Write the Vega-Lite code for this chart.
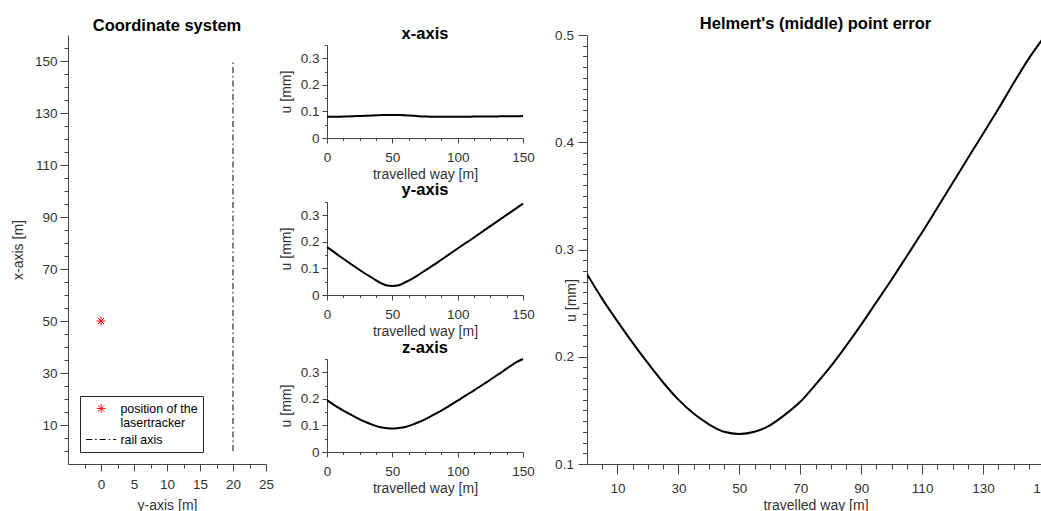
{
  "$schema": "https://vega.github.io/schema/vega-lite/v6.json",
  "padding": {"left": 11, "top": 15, "right": 0, "bottom": 0},
  "background": "white",
  "config": {
    "view": {"stroke": null},
    "font": "Liberation Sans",
    "axis": {
      "grid": false,
      "domainColor": "#444444",
      "tickColor": "#444444",
      "labelColor": "#333333",
      "titleColor": "#333333",
      "labelFont": "Liberation Sans",
      "titleFont": "Liberation Sans",
      "labelFontSize": 13.5,
      "titleFontSize": 14,
      "titleFontWeight": "normal",
      "labelFlush": false,
      "labelOverlap": false,
      "labelBound": false
    },
    "title": {"fontSize": 16.5, "fontWeight": "bold", "color": "#000000", "frame": "group", "anchor": "middle", "baseline": "alphabetic", "font": "Liberation Sans"}
  },
  "datasets": {
    "tracker": [{"y_axis_m": 0, "x_axis_m": 50, "series": "position of the lasertracker"}],
    "rail": [{"y_axis_m": 20, "x_axis_m": 0, "x_end": 150, "series": "rail axis"}],
    "err": [
      {"t": 0, "ux": 0.080, "uy": 0.180, "uz": 0.195, "u": 0.277},
      {"t": 5, "ux": 0.080, "uy": 0.163, "uz": 0.178, "u": 0.254},
      {"t": 10, "ux": 0.080, "uy": 0.145, "uz": 0.163, "u": 0.233},
      {"t": 15, "ux": 0.081, "uy": 0.128, "uz": 0.149, "u": 0.213},
      {"t": 20, "ux": 0.082, "uy": 0.111, "uz": 0.136, "u": 0.194},
      {"t": 25, "ux": 0.083, "uy": 0.094, "uz": 0.123, "u": 0.176},
      {"t": 30, "ux": 0.084, "uy": 0.078, "uz": 0.112, "u": 0.160},
      {"t": 35, "ux": 0.085, "uy": 0.063, "uz": 0.102, "u": 0.147},
      {"t": 40, "ux": 0.086, "uy": 0.048, "uz": 0.094, "u": 0.137},
      {"t": 45, "ux": 0.087, "uy": 0.037, "uz": 0.090, "u": 0.130},
      {"t": 50, "ux": 0.087, "uy": 0.034, "uz": 0.088, "u": 0.128},
      {"t": 55, "ux": 0.087, "uy": 0.037, "uz": 0.090, "u": 0.130},
      {"t": 60, "ux": 0.086, "uy": 0.048, "uz": 0.094, "u": 0.136},
      {"t": 65, "ux": 0.084, "uy": 0.061, "uz": 0.102, "u": 0.146},
      {"t": 70, "ux": 0.082, "uy": 0.076, "uz": 0.112, "u": 0.158},
      {"t": 75, "ux": 0.081, "uy": 0.092, "uz": 0.123, "u": 0.174},
      {"t": 80, "ux": 0.080, "uy": 0.108, "uz": 0.136, "u": 0.191},
      {"t": 85, "ux": 0.080, "uy": 0.124, "uz": 0.149, "u": 0.210},
      {"t": 90, "ux": 0.080, "uy": 0.141, "uz": 0.163, "u": 0.230},
      {"t": 95, "ux": 0.080, "uy": 0.158, "uz": 0.178, "u": 0.251},
      {"t": 100, "ux": 0.080, "uy": 0.175, "uz": 0.193, "u": 0.272},
      {"t": 105, "ux": 0.080, "uy": 0.192, "uz": 0.209, "u": 0.294},
      {"t": 110, "ux": 0.080, "uy": 0.208, "uz": 0.224, "u": 0.316},
      {"t": 115, "ux": 0.081, "uy": 0.225, "uz": 0.240, "u": 0.339},
      {"t": 120, "ux": 0.081, "uy": 0.242, "uz": 0.256, "u": 0.362},
      {"t": 125, "ux": 0.081, "uy": 0.259, "uz": 0.272, "u": 0.385},
      {"t": 130, "ux": 0.081, "uy": 0.276, "uz": 0.289, "u": 0.408},
      {"t": 135, "ux": 0.082, "uy": 0.293, "uz": 0.305, "u": 0.431},
      {"t": 140, "ux": 0.082, "uy": 0.310, "uz": 0.322, "u": 0.455},
      {"t": 145, "ux": 0.082, "uy": 0.327, "uz": 0.338, "u": 0.478},
      {"t": 150, "ux": 0.083, "uy": 0.344, "uz": 0.350, "u": 0.498}
    ]
  },
  "spacing": 19,
  "hconcat": [
    {
      "spacing": 5,
      "hconcat": [
        {
          "width": 198,
          "height": 429,
          "title": {"text": "Coordinate system", "offset": 0.6},
          "encoding": {
            "x": {
              "field": "y_axis_m", "type": "quantitative",
              "scale": {"domain": [-5, 25], "nice": false, "zero": false},
              "axis": {
                "title": "y-axis [m]",
                "values": [-2.5, 0, 2.5, 5, 7.5, 10, 12.5, 15, 17.5, 20, 22.5, 25],
                "labelExpr": "datum.value % 5 === 0 ? datum.value + '' : ''",
                "tickSize": {"condition": {"test": "datum.value % 5 === 0", "value": 7}, "value": 4},
                "labelPadding": 6.5,
                "titleY": 34
              }
            },
            "y": {
              "field": "x_axis_m", "type": "quantitative",
              "scale": {"domain": [-5, 160], "nice": false, "zero": false},
              "axis": {
                "title": "x-axis [m]",
                "values": [0, 5, 10, 15, 20, 25, 30, 35, 40, 45, 50, 55, 60, 65, 70, 75, 80, 85, 90, 95, 100, 105, 110, 115, 120, 125, 130, 135, 140, 145, 150, 155],
                "labelExpr": "(datum.value - 10) % 20 === 0 ? datum.value + '' : ''",
                "tickSize": {"condition": {"test": "(datum.value - 10) % 20 === 0", "value": 8}, "value": 4},
                "labelPadding": 3,
                "titleX": -42.5
              }
            },
            "color": {
              "field": "series", "type": "nominal",
              "scale": {"domain": ["position of the lasertracker", "rail axis"], "range": ["#ff0000", "#000000"]},
              "legend": {
                "title": null,
                "orient": "none",
                "legendX": 12,
                "legendY": 361,
                "strokeColor": "#262626",
                "fillColor": "#ffffff",
                "padding": 5,
                "labelFont": "Liberation Sans",
                "labelFontSize": 12.4,
                "labelColor": "#000000",
                "symbolSize": 100,
                "symbolOffset": 10,
                "labelOffset": 13,
                "clipHeight": 15,
                "rowPadding": 2,
                "labelExpr": "datum.value === 'position of the lasertracker' ? ['position of the', 'lasertracker'] : datum.label",
                "encode": {
                  "symbols": {
                    "update": {
                      "shape": {"signal": "datum.value === 'rail axis' ? 'M-3,0L3,0' : 'M-0.87,0L0.87,0M0,-0.87L0,0.87M-0.62,-0.62L0.62,0.62M-0.62,0.62L0.62,-0.62'"},
                      "size": {"value": 100},
                      "strokeDash": {"signal": "datum.value === 'rail axis' ? [6, 3, 1.5, 3] : [1, 0]"},
                      "stroke": {"signal": "datum.value === 'rail axis' ? '#000000' : '#ff0000'"},
                      "fill": {"value": "transparent"},
                      "strokeWidth": {"value": 1},
                      "opacity": {"value": 1}
                    }
                  }
                }
              }
            }
          },
          "layer": [
            {
              "data": {"name": "rail"},
              "mark": {"type": "rule", "strokeDash": [6, 3, 1.5, 3], "strokeWidth": 1},
              "encoding": {"y2": {"field": "x_end"}}
            },
            {
              "data": {"name": "tracker"},
              "mark": {"type": "point", "shape": "M-1,0L1,0M0,-1L0,1M-0.7,-0.7L0.7,0.7M-0.7,0.7L0.7,-0.7", "filled": false, "size": 80, "strokeWidth": 1, "opacity": 1},
              "encoding": {}
            }
          ]
        },
        {
          "spacing": -10,
          "vconcat": [
            {"width": 196, "height": 1, "data": {"values": []}, "mark": "point"},
            {
              "bounds": "flush",
              "spacing": 64,
              "vconcat": [
                {
                  "width": 196, "height": 93,
                  "title": {"text": "x-axis", "offset": -4.8},
                  "data": {"name": "err"},
                  "mark": {"type": "line", "color": "#000000", "strokeWidth": 2, "interpolate": "monotone"},
                  "encoding": {
                    "x": {"field": "t", "type": "quantitative", "scale": {"domain": [0, 150], "nice": false},
                      "axis": {"title": "travelled way [m]", "values": [0, 12.5, 25, 37.5, 50, 62.5, 75, 87.5, 100, 112.5, 125, 137.5, 150],
                        "labelExpr": "datum.value % 50 === 0 ? datum.value + '' : ''",
                        "tickSize": {"condition": {"test": "datum.value % 50 === 0", "value": 5}, "value": 2.5},
                        "labelPadding": 7, "titleY": 29.7}},
                    "y": {"field": "ux", "type": "quantitative", "scale": {"domain": [0, 0.35], "nice": false},
                      "axis": {"title": "u [mm]", "values": [0, 0.05, 0.1, 0.15, 0.2, 0.25, 0.3, 0.35],
                        "labelExpr": "abs(datum.value * 10 - round(datum.value * 10)) < 1e-6 ? datum.value + '' : ''",
                        "tickSize": {"condition": {"test": "abs(datum.value * 10 - round(datum.value * 10)) < 1e-6", "value": 5}, "value": 2.5},
                        "labelPadding": 3, "titleX": -33.8}}
                  }
                },
                {
                  "width": 196, "height": 93,
                  "title": {"text": "y-axis", "offset": -3.8},
                  "data": {"name": "err"},
                  "mark": {"type": "line", "color": "#000000", "strokeWidth": 2, "interpolate": "monotone"},
                  "encoding": {
                    "x": {"field": "t", "type": "quantitative", "scale": {"domain": [0, 150], "nice": false},
                      "axis": {"title": "travelled way [m]", "values": [0, 12.5, 25, 37.5, 50, 62.5, 75, 87.5, 100, 112.5, 125, 137.5, 150],
                        "labelExpr": "datum.value % 50 === 0 ? datum.value + '' : ''",
                        "tickSize": {"condition": {"test": "datum.value % 50 === 0", "value": 5}, "value": 2.5},
                        "labelPadding": 7, "titleY": 29.7}},
                    "y": {"field": "uy", "type": "quantitative", "scale": {"domain": [0, 0.35], "nice": false},
                      "axis": {"title": "u [mm]", "values": [0, 0.05, 0.1, 0.15, 0.2, 0.25, 0.3, 0.35],
                        "labelExpr": "abs(datum.value * 10 - round(datum.value * 10)) < 1e-6 ? datum.value + '' : ''",
                        "tickSize": {"condition": {"test": "abs(datum.value * 10 - round(datum.value * 10)) < 1e-6", "value": 5}, "value": 2.5},
                        "labelPadding": 3, "titleX": -33.8}}
                  }
                },
                {
                  "width": 196, "height": 93,
                  "title": {"text": "z-axis", "offset": -4.2},
                  "data": {"name": "err"},
                  "mark": {"type": "line", "color": "#000000", "strokeWidth": 2, "interpolate": "monotone"},
                  "encoding": {
                    "x": {"field": "t", "type": "quantitative", "scale": {"domain": [0, 150], "nice": false},
                      "axis": {"title": "travelled way [m]", "values": [0, 12.5, 25, 37.5, 50, 62.5, 75, 87.5, 100, 112.5, 125, 137.5, 150],
                        "labelExpr": "datum.value % 50 === 0 ? datum.value + '' : ''",
                        "tickSize": {"condition": {"test": "datum.value % 50 === 0", "value": 5}, "value": 2.5},
                        "labelPadding": 7, "titleY": 29.7}},
                    "y": {"field": "uz", "type": "quantitative", "scale": {"domain": [0, 0.35], "nice": false},
                      "axis": {"title": "u [mm]", "values": [0, 0.05, 0.1, 0.15, 0.2, 0.25, 0.3, 0.35],
                        "labelExpr": "abs(datum.value * 10 - round(datum.value * 10)) < 1e-6 ? datum.value + '' : ''",
                        "tickSize": {"condition": {"test": "abs(datum.value * 10 - round(datum.value * 10)) < 1e-6", "value": 5}, "value": 2.5},
                        "labelPadding": 3, "titleX": -33.8}}
                  }
                }
              ]
            }
          ]
        }
      ]
    },
    {
      "width": 457,
      "height": 429,
      "title": {"text": "Helmert's (middle) point error", "offset": -4.3},
      "data": {"name": "err"},
      "mark": {"type": "line", "color": "#000000", "strokeWidth": 2, "interpolate": "monotone", "clip": true},
      "encoding": {
        "x": {"field": "t", "type": "quantitative", "scale": {"domain": [0, 150], "nice": false},
          "axis": {"title": "travelled way [m]",
            "values": [5, 10, 15, 20, 25, 30, 35, 40, 45, 50, 55, 60, 65, 70, 75, 80, 85, 90, 95, 100, 105, 110, 115, 120, 125, 130, 135, 140, 145, 150],
            "labelExpr": "(datum.value - 10) % 20 === 0 ? datum.value + '' : ''",
            "tickSize": {"condition": {"test": "(datum.value - 10) % 20 === 0", "value": 10}, "value": 5},
            "labelPadding": 7.8, "titleY": 34}},
        "y": {"field": "u", "type": "quantitative", "scale": {"domain": [0.1, 0.5], "nice": false, "zero": false},
          "axis": {"title": "u [mm]",
            "values": [0.1, 0.11, 0.12, 0.13, 0.14, 0.15, 0.16, 0.17, 0.18, 0.19, 0.2, 0.21, 0.22, 0.23, 0.24, 0.25, 0.26, 0.27, 0.28, 0.29, 0.3, 0.31, 0.32, 0.33, 0.34, 0.35, 0.36, 0.37, 0.38, 0.39, 0.4, 0.41, 0.42, 0.43, 0.44, 0.45, 0.46, 0.47, 0.48, 0.49, 0.5],
            "labelExpr": "abs(datum.value * 10 - round(datum.value * 10)) < 1e-6 ? datum.value + '' : ''",
            "tickSize": {"condition": {"test": "abs(datum.value * 10 - round(datum.value * 10)) < 1e-6", "value": 9}, "value": 4.5},
            "labelPadding": 4.6, "titleX": -8.5, "titleY": 265}}
      }
    }
  ]
}
